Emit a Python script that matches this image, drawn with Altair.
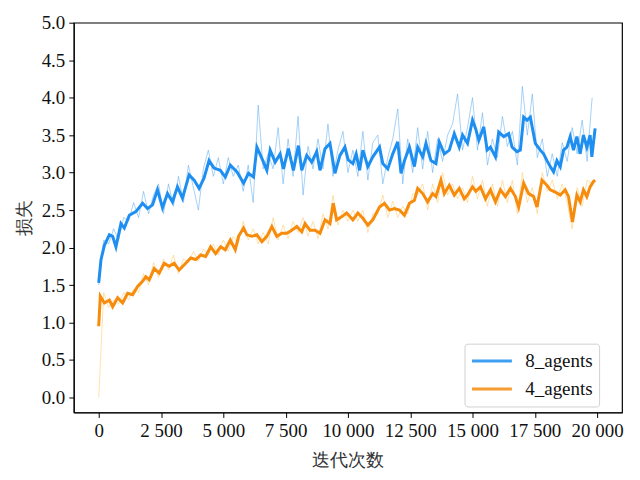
import altair as alt
import pandas as pd

# ---- smoothed curves ----
blue_x = [0, 92, 228, 428, 560, 692, 892, 1028, 1228, 1492, 1760, 1960, 2160, 2360, 2560, 2760, 2960, 3160, 3360,
          3628, 3828, 4028, 4228, 4428, 4628, 4880, 5080, 5280, 5548, 5812, 6012, 6212, 6348, 6548, 6748, 6880,
          7080, 7280, 7412, 7612, 7812, 8012, 8148, 8348, 8548, 8748, 8880, 9080, 9280, 9480, 9680, 9880, 10012,
          10200, 10332, 10468, 10600, 10800, 11000, 11268, 11400, 11600, 11800, 12000, 12132, 12268, 12468, 12668,
          12800, 13000, 13132, 13332, 13532, 13668, 13868, 14068, 14268, 14468, 14600, 14800, 15000, 15132, 15252,
          15452, 15588, 15720, 15920, 16052, 16252, 16452, 16588, 16788, 16920, 17052, 17188, 17320, 17520, 17720,
          17852, 17988, 18120, 18252, 18388, 18520, 18652, 18788, 18920, 19052, 19188, 19320, 19452, 19588, 19720,
          19788, 19920]
blue_y = [1.53, 1.84, 2.03, 2.17, 2.15, 2.01, 2.32, 2.26, 2.43, 2.48, 2.59, 2.52, 2.57, 2.77, 2.53, 2.72, 2.61, 2.81,
          2.66, 2.97, 2.90, 2.79, 2.93, 3.16, 3.06, 3.03, 2.94, 3.10, 3.01, 2.86, 2.99, 2.94, 3.34, 3.19, 3.03, 3.30,
          3.14, 3.25, 3.05, 3.32, 3.03, 3.36, 3.03, 3.23, 3.14, 3.28, 3.03, 3.32, 3.39, 2.99, 3.23, 3.34, 3.17,
          3.12, 3.25, 3.03, 3.30, 3.08, 3.21, 3.34, 3.12, 3.05, 3.25, 3.41, 2.99, 3.16, 3.34, 3.08,
          3.34, 3.21, 3.39, 3.16, 3.12, 3.41, 3.25, 3.30, 3.52, 3.34, 3.50, 3.39, 3.70, 3.58, 3.43,
          3.61, 3.30, 3.34, 3.21, 3.54, 3.48, 3.52, 3.34, 3.28, 3.30, 3.74, 3.70, 3.74, 3.39, 3.30,
          3.25, 3.16, 3.08, 3.01, 3.16, 3.08, 3.30, 3.34, 3.48, 3.30, 3.48, 3.25, 3.50, 3.34, 3.50,
          3.21, 3.59]

orange_x = [0, 64, 228, 428, 560, 760, 960, 1160, 1360, 1560, 1760, 1892, 2028, 2228, 2428, 2628, 2828, 3028, 3228,
            3492, 3692, 3892, 4092, 4292, 4492, 4692, 4892, 5080, 5280, 5480, 5612, 5812, 5948, 6148, 6348, 6548,
            6748, 6948, 7148, 7348, 7548, 7748, 7948, 8148, 8280, 8480, 8680, 8880, 9080, 9280, 9412, 9548, 9748,
            9948, 10200, 10400, 10600, 10800, 11000, 11268, 11468, 11668, 11868, 12068, 12268, 12468, 12668, 12800,
            13000, 13200, 13400, 13532, 13732, 13868, 14068, 14268, 14468, 14668, 14800, 15000, 15132, 15320, 15520,
            15720, 15920, 16120, 16320, 16520, 16720, 16852, 17052, 17252, 17452, 17588, 17788, 17988, 18120, 18320,
            18520, 18720, 18852, 19012, 19188, 19320, 19452, 19588, 19720, 19852, 19920]
orange_y = [0.95, 1.35, 1.26, 1.30, 1.21, 1.33, 1.26, 1.39, 1.37, 1.48, 1.55, 1.61, 1.57, 1.72, 1.66, 1.79, 1.75, 1.79,
            1.70, 1.79, 1.86, 1.84, 1.90, 1.88, 2.01, 1.92, 2.01, 1.97, 2.10, 1.97, 2.15, 2.26, 2.17, 2.15, 2.17, 2.08,
            2.15, 2.28, 2.15, 2.19, 2.19, 2.23, 2.28, 2.21, 2.32, 2.23, 2.23, 2.19, 2.37, 2.32, 2.59, 2.37, 2.41,
            2.46, 2.37, 2.46, 2.39, 2.30, 2.37, 2.54, 2.59, 2.50, 2.52, 2.50, 2.43, 2.59, 2.63, 2.79,
            2.72, 2.61, 2.72, 2.68, 2.90, 2.72, 2.83, 2.70, 2.79, 2.65, 2.70, 2.81, 2.75, 2.81, 2.65,
            2.77, 2.61, 2.77, 2.68, 2.79, 2.68, 2.54, 2.86, 2.72, 2.68, 2.54, 2.90, 2.83, 2.77, 2.74,
            2.70, 2.77, 2.68, 2.34, 2.70, 2.61, 2.77, 2.68, 2.81, 2.88, 2.90]

# ---- raw (unsmoothed) curves ----
raw_x = list(range(0, 20000, 200))
blue_raw = [1.50, 2.10, 2.05, 2.25, 2.10, 2.40, 2.35, 2.60, 2.40, 2.75,
            2.45, 2.70, 2.85, 2.45, 2.85, 2.55, 2.95, 2.60, 3.10, 2.80,
            2.50, 3.05, 3.30, 2.95, 3.20, 2.85, 3.20, 2.95, 3.10, 2.75,
            3.10, 2.60, 3.90, 3.05, 3.25, 3.05, 3.60, 2.85, 3.45, 2.95,
            3.75, 2.70, 3.35, 3.05, 3.45, 3.05, 3.65, 2.95, 3.30, 3.55,
            3.00, 3.30, 2.95, 3.55, 2.90, 3.40, 3.50, 2.85, 3.20, 3.45,
            3.85, 2.85, 3.45, 3.00, 3.60, 3.05, 3.55, 3.00, 3.45, 3.15,
            3.50, 3.65, 4.05, 3.30, 3.60, 4.00, 3.30, 3.80, 3.10, 3.45,
            3.20, 3.75, 3.35, 3.55, 3.10, 4.15, 3.50, 4.05, 3.20, 3.45,
            2.95, 3.25, 2.95, 3.40, 3.15, 3.60, 3.25, 3.70, 3.15, 4.00]
orange_raw = [0.00, 1.40, 1.20, 1.30, 1.25, 1.40, 1.30, 1.45, 1.40, 1.65,
              1.50, 1.80, 1.60, 1.85, 1.70, 1.90, 1.65, 1.85, 1.80, 1.95,
              1.82, 1.98, 1.90, 2.05, 1.90, 2.10, 1.95, 2.15, 2.05, 2.35,
              2.10, 2.25, 2.05, 2.20, 2.05, 2.40, 2.10, 2.30, 2.12, 2.35,
              2.20, 2.40, 2.15, 2.35, 2.12, 2.45, 2.25, 2.70, 2.30, 2.50,
              2.35, 2.50, 2.35, 2.50, 2.20, 2.45, 2.45, 2.70, 2.40, 2.62,
              2.40, 2.55, 2.45, 2.72, 2.70, 2.85, 2.50, 2.85, 2.60, 3.00,
              2.70, 2.85, 2.65, 2.80, 2.60, 2.95, 2.65, 2.90, 2.55, 2.85,
              2.55, 2.90, 2.60, 2.90, 2.45, 3.00, 2.60, 2.80, 2.45, 3.00,
              2.75, 2.90, 2.65, 2.85, 2.60, 2.25, 2.80, 2.55, 2.90, 2.85]

series = ["8_agents", "4_agents"]
y_ticks = [0, 0.5, 1, 1.5, 2, 2.5, 3, 3.5, 4, 4.5, 5]
x_ticks = [0, 2500, 5000, 7500, 10000, 12500, 15000, 17500, 20000]

smooth = pd.concat([
    pd.DataFrame({"x": blue_x, "y": blue_y, "s": series[0]}),
    pd.DataFrame({"x": orange_x, "y": orange_y, "s": series[1]}),
])
raw = pd.concat([
    pd.DataFrame({"x": raw_x, "y": blue_raw, "s": series[0]}),
    pd.DataFrame({"x": raw_x, "y": orange_raw, "s": series[1]}),
])

FONT = "Liberation Serif"

axis_common = dict(grid=False, domainColor="black", tickColor="black", tickSize=5, tickWidth=1,
                   labelFont=FONT, labelFontSize=19, labelColor="#111", labelPadding=4,
                   titleFont=FONT, titleFontSize=18, titleFontWeight="normal", titleColor="#333")

xenc = alt.X("x:Q", scale=alt.Scale(domain=[-1000, 21000], nice=False, zero=False),
             axis=alt.Axis(values=x_ticks, title="迭代次数", titlePadding=11,
                           labelExpr="replace(format(datum.value, ','), ',', ' ')", **axis_common))
yenc = alt.Y("y:Q", scale=alt.Scale(domain=[-0.2, 5.0], nice=False, zero=False),
             axis=alt.Axis(values=y_ticks, format=".1f", title="损失", titlePadding=8, **axis_common))

raw_layer = alt.Chart(raw).mark_line(strokeWidth=0.9, opacity=0.6).encode(
    x=xenc, y=yenc,
    color=alt.Color("s:N", scale=alt.Scale(domain=series, range=["#5aaaf0", "#ffc766"]), legend=None),
    detail="s:N",
)

smooth_layer = alt.Chart(smooth).mark_line(strokeWidth=3).encode(
    x=xenc, y=yenc,
    color=alt.Color("s:N", scale=alt.Scale(domain=series, range=["#1e8ff0", "#f68b0c"]),
                    legend=alt.Legend(orient="none", legendX=392, legendY=322, title=None,
                                      symbolType="stroke", symbolSize=1600, symbolStrokeWidth=3,
                                      clipHeight=23, rowPadding=5, padding=6,
                                      labelFontSize=19, labelFont=FONT, labelColor="#111",
                                      fillColor="white", strokeColor="#d0d0d0",
                                      cornerRadius=3, labelOffset=12,
                                      symbolOpacity=0.85)),
)

chart = alt.layer(raw_layer, smooth_layer).resolve_scale(color="independent").properties(
    width=550, height=391,
    autosize=alt.AutoSizeParams(type="none"),
    padding={"left": 66, "top": 14, "right": 10, "bottom": 60},
).configure_view(stroke="black", strokeWidth=1.2)

chart.save("out.html", embed_options={"renderer": "svg", "actions": False})
